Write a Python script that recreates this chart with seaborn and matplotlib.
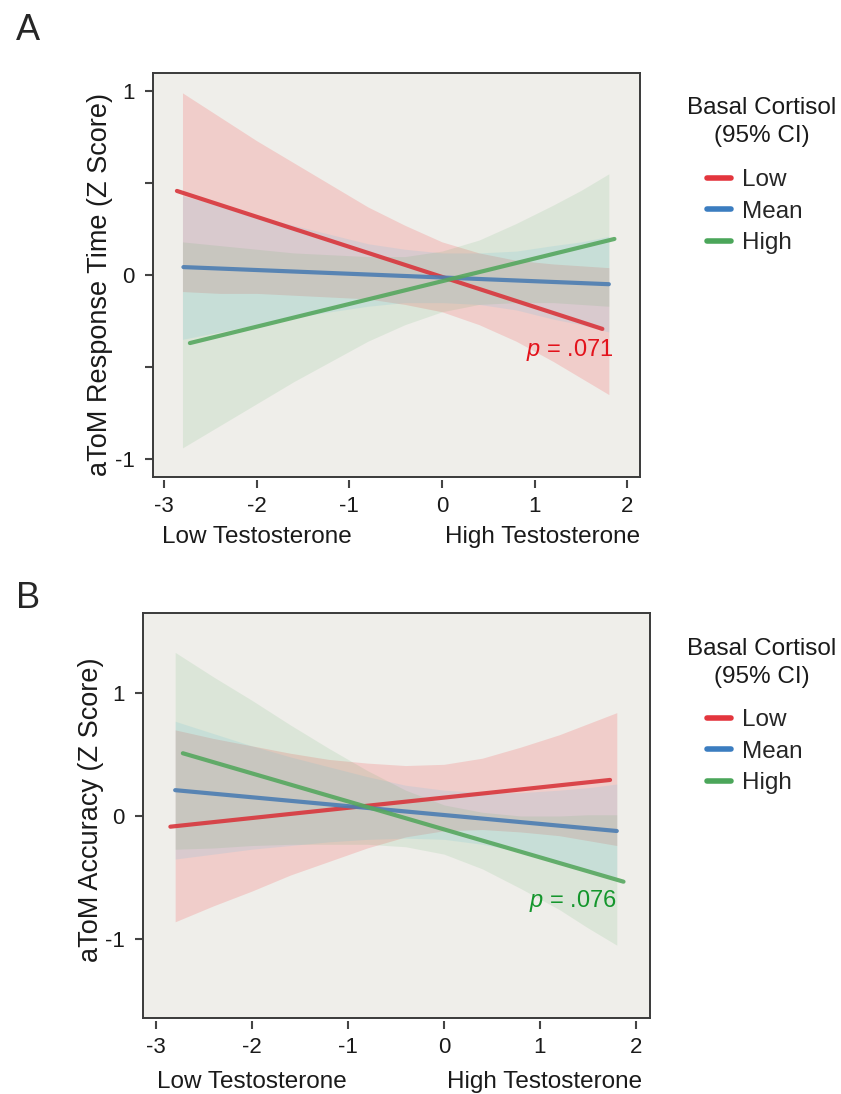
import seaborn as sns
import matplotlib.pyplot as plt
import pandas as pd
from matplotlib.lines import Line2D

W, H = 841, 1094

groups = ['Low', 'Mean', 'High']

# colours
line_colors = {'Low': '#d8363c', 'Mean': '#4c7db2', 'High': '#56a75f'}
legend_colors = {'Low': '#e3353d', 'Mean': '#3b7dc0', 'High': '#4ba65a'}
band_colors = {'Low': '#f55a5a', 'Mean': '#5abee6', 'High': '#50aa5a'}
band_alpha = {'Low': 0.22, 'Mean': 0.15, 'High': 0.12}

# x positions where the CI bands were read
ci_x = [-2.8, -2.4, -2.0, -1.6, -1.2, -0.8, -0.4, 0.0, 0.4, 0.8, 1.2, 1.5, 1.8]

# Panel A: aToM response time
a_line_x = {'Low': [-2.86, 1.73], 'Mean': [-2.79, 1.80], 'High': [-2.72, 1.86]}
a_line_y = {'Low': [0.457, -0.293], 'Mean': [0.043, -0.050], 'High': [-0.370, 0.196]}
a_upper = {'Low': [0.99, 0.86, 0.73, 0.61, 0.49, 0.37, 0.27, 0.18, 0.12, 0.08, 0.06, 0.05, 0.04],
           'Mean': [0.43, 0.38, 0.32, 0.27, 0.22, 0.17, 0.14, 0.12, 0.12, 0.13, 0.16, 0.18, 0.21],
           'High': [0.18, 0.16, 0.14, 0.12, 0.11, 0.10, 0.10, 0.13, 0.19, 0.28, 0.38, 0.46, 0.55]}
a_lower = {'Low': [-0.09, -0.10, -0.10, -0.11, -0.12, -0.13, -0.16, -0.20, -0.27, -0.36, -0.47, -0.56, -0.65],
           'Mean': [-0.35, -0.31, -0.27, -0.23, -0.20, -0.17, -0.15, -0.15, -0.16, -0.19, -0.24, -0.27, -0.31],
           'High': [-0.94, -0.82, -0.70, -0.58, -0.47, -0.36, -0.27, -0.20, -0.16, -0.15, -0.15, -0.16, -0.17]}

# Panel B: aToM accuracy
b_line_x = {'Low': [-2.85, 1.73], 'Mean': [-2.80, 1.80], 'High': [-2.72, 1.87]}
b_line_y = {'Low': [-0.087, 0.293], 'Mean': [0.210, -0.122], 'High': [0.510, -0.534]}
b_upper = {'Low': [0.70, 0.63, 0.57, 0.51, 0.46, 0.43, 0.41, 0.42, 0.47, 0.56, 0.66, 0.75, 0.84],
           'Mean': [0.77, 0.67, 0.57, 0.48, 0.40, 0.32, 0.25, 0.21, 0.19, 0.19, 0.21, 0.23, 0.26],
           'High': [1.33, 1.13, 0.94, 0.74, 0.55, 0.37, 0.21, 0.09, 0.03, 0.00, 0.00, 0.01, 0.01]}
b_lower = {'Low': [-0.86, -0.73, -0.61, -0.48, -0.37, -0.26, -0.17, -0.12, -0.11, -0.13, -0.16, -0.20, -0.24],
           'Mean': [-0.35, -0.31, -0.27, -0.24, -0.21, -0.19, -0.18, -0.19, -0.23, -0.29, -0.37, -0.44, -0.50],
           'High': [-0.27, -0.26, -0.24, -0.23, -0.23, -0.23, -0.25, -0.31, -0.43, -0.59, -0.76, -0.91, -1.05]}

sns.set_style('ticks')
plt.rcParams['font.family'] = ['Liberation Sans', 'DejaVu Sans']
plt.rcParams['axes.unicode_minus'] = False
plt.rcParams['mathtext.fontset'] = 'custom'
plt.rcParams['mathtext.it'] = 'Liberation Sans:italic'
plt.rcParams['mathtext.rm'] = 'Liberation Sans'

fig = plt.figure(figsize=(W / 100, H / 100), dpi=100, facecolor='white')


def px(x, y):
    return x / W, 1 - y / H


def draw_panel(rect, line_x, line_y, upper, lower, xlim, ylim, yticks, minor,
               ylabel, ylab_pos, p_text, p_pos, p_color, letter, letter_y,
               low_y, high_x, leg_top, title_y):
    ax = fig.add_axes(rect)
    ax.set_facecolor('#efeeea')

    for g in groups:
        ax.fill_between(ci_x, lower[g], upper[g], color=band_colors[g],
                        alpha=band_alpha[g], lw=0)

    rows = []
    for g in groups:
        for x, y in zip(line_x[g], line_y[g]):
            rows.append({'x': x, 'y': y, 'group': g})
    df = pd.DataFrame(rows)
    sns.lineplot(data=df, x='x', y='y', hue='group', palette=line_colors,
                 lw=3, alpha=0.9, legend=False, ax=ax)

    ax.set_xlim(*xlim)
    ax.set_ylim(*ylim)
    ax.set_xticks([-3, -2, -1, 0, 1, 2])
    ax.set_xticklabels(['-3', '-2', '-1', '0', '1', '2'])
    ax.set_yticks(yticks)
    ax.set_yticklabels([str(t) for t in yticks])
    if minor:
        ax.set_yticks(minor, minor=True)
    ax.set_xlabel('')
    ax.set_ylabel('')
    ax.tick_params(axis='both', which='both', length=6, width=1.5,
                   color='#444444', labelsize=16, labelcolor='#1a1a1a')
    ax.tick_params(axis='y', pad=7)
    ax.tick_params(axis='x', pad=5)

    for s in ax.spines.values():
        s.set_color('#3a3a3a')
        s.set_linewidth(1.4)
    ax.spines['bottom'].set_position(('outward', 2.5))
    ax.spines['bottom'].set_visible(False)
    ax.plot([0, 1], [0, 0], transform=ax.transAxes, color='#3a3a3a',
            lw=1.4, clip_on=False, zorder=5)

    ax.text(p_pos[0], p_pos[1], p_text, color=p_color, fontsize=17,
            ha='right', va='center')

    ax.text(-2.0, low_y, 'Low Testosterone', transform=ax.get_xaxis_transform(),
            ha='center', va='center', fontsize=17.5, color='#1a1a1a')
    ax.text(high_x, low_y, 'High Testosterone', transform=ax.get_xaxis_transform(),
            ha='center', va='center', fontsize=17.5, color='#1a1a1a')

    fig.text(*px(*ylab_pos), ylabel, rotation=90, ha='center', va='center',
             fontsize=19.5, color='#1a1a1a')
    fig.text(*px(28, letter_y), letter, ha='center', va='center', fontsize=26)

    fig.text(*px(762, title_y), 'Basal Cortisol\n(95% CI)', ha='center',
             va='center', fontsize=17.5, linespacing=1.35, color='#1a1a1a')
    handles = [Line2D([0], [0], color=legend_colors[g], lw=4) for g in groups]
    ax.legend(handles, groups, loc='upper left', bbox_to_anchor=px(707, leg_top),
              bbox_transform=fig.transFigure, frameon=False, fontsize=17.5,
              borderpad=0, borderaxespad=0, handlelength=1.0,
              handletextpad=0.45, labelspacing=0.4)
    return ax


draw_panel([153 / W, 1 - 477 / H, 487 / W, 404 / H],
           a_line_x, a_line_y, a_upper, a_lower,
           (-3.118, 2.136), (-1.098, 1.098), [-1, 0, 1], [-0.5, 0.5],
           'aToM Response Time (Z Score)', (100, 285),
           '$p$ = .071', (1.85, -0.41), '#e3121b', 'A', 30,
           -0.148, 1.09, 169, 122)

draw_panel([143 / W, 1 - 1018 / H, 507 / W, 405 / H],
           b_line_x, b_line_y, b_upper, b_lower,
           (-3.135, 2.146), (-1.642, 1.65), [-1, 0, 1], None,
           'aToM Accuracy (Z Score)', (91, 810),
           '$p$ = .076', (1.80, -0.69), '#14962c', 'B', 598,
           -0.158, 1.05, 709, 663)

fig.savefig('out.png', dpi=100, facecolor='white')
